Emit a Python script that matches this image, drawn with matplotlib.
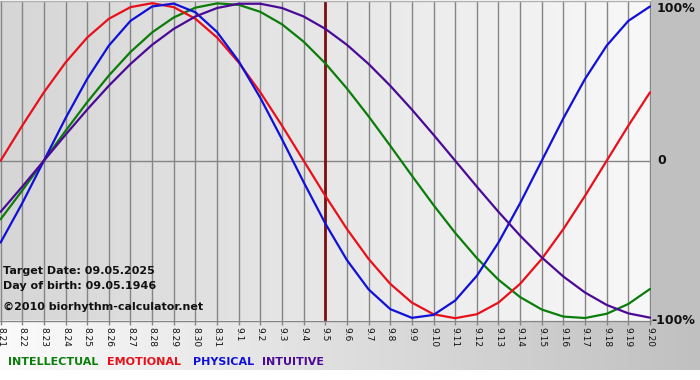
import numpy as np
import matplotlib
matplotlib.use("Agg")
import matplotlib.pyplot as plt
from matplotlib.colors import LinearSegmentedColormap

dates = ["8.21", "8.22", "8.23", "8.24", "8.25", "8.26", "8.27", "8.28", "8.29", "8.30", "8.31",
         "9.1", "9.2", "9.3", "9.4", "9.5", "9.6", "9.7", "9.8", "9.9", "9.10",
         "9.11", "9.12", "9.13", "9.14", "9.15", "9.16", "9.17", "9.18", "9.19", "9.20"]
target_label = "9.5"

intellectual = [-0.3717, -0.1893, 0.0, 0.1893, 0.3717, 0.5406, 0.6901, 0.8146, 0.9096, 0.9718, 0.9989,
                0.9898, 0.9450, 0.8660, 0.7557, 0.6182, 0.4582, 0.2817, 0.0951, -0.0951, -0.2817,
                -0.4582, -0.6182, -0.7557, -0.8660, -0.9450, -0.9898, -0.9989, -0.9718, -0.9096, -0.8146]
emotional = [0.0, 0.2225, 0.4339, 0.6235, 0.7818, 0.9010, 0.9749, 1.0, 0.9749, 0.9010, 0.7818,
             0.6235, 0.4339, 0.2225, 0.0, -0.2225, -0.4339, -0.6235, -0.7818, -0.9010, -0.9749,
             -1.0, -0.9749, -0.9010, -0.7818, -0.6235, -0.4339, -0.2225, 0.0, 0.2225, 0.4339]
physical = [-0.5196, -0.2698, 0.0, 0.2698, 0.5196, 0.7308, 0.8879, 0.9791, 0.9977, 0.9423, 0.8170,
            0.6311, 0.3984, 0.1362, -0.1362, -0.3984, -0.6311, -0.8170, -0.9423, -0.9977, -0.9791,
            -0.8879, -0.7308, -0.5196, -0.2698, 0.0, 0.2698, 0.5196, 0.7308, 0.8879, 0.9791]
intuitive = [-0.3247, -0.1646, 0.0, 0.1646, 0.3247, 0.4759, 0.6142, 0.7357, 0.8372, 0.9158, 0.9694,
             0.9966, 0.9966, 0.9694, 0.9158, 0.8372, 0.7357, 0.6142, 0.4759, 0.3247, 0.1646,
             0.0, -0.1646, -0.3247, -0.4759, -0.6142, -0.7357, -0.8372, -0.9158, -0.9694, -0.9966]

series_names = ["INTELLECTUAL", "EMOTIONAL", "PHYSICAL", "INTUITIVE"]
series_colors = ["#0a7d0a", "#e8101a", "#1010d8", "#4b0a96"]
info_lines = ["Target Date: 09.05.2025", "Day of birth: 09.05.1946", "\u00a92010 biorhythm-calculator.net"]
y_labels = ["100%", "0", "-100%"]

W, H = 700, 380
fig = plt.figure(figsize=(7, 3.8), dpi=100)
fig.patch.set_facecolor("white")

def fx(px):
    return px / W

def fy(py):
    return 1 - py / H

# background axes for the figure decorations
bg = fig.add_axes([0, 0, 1, 1], zorder=-10)
bg.axis("off")
bg.add_patch(plt.Rectangle((651, 0), W - 651, 321, color="#c0c0c0", lw=0))
cm_bottom = LinearSegmentedColormap.from_list("b", ["#fbfbfb", "#c0c0c0"])
grad = np.linspace(0, 1, 256).reshape(1, -1)
bg.imshow(grad, cmap=cm_bottom, extent=(0, W, 370, 321), aspect="auto", interpolation="bilinear")
bg.set_xlim(0, W)
bg.set_ylim(H, 0)

# plot axes
top_px, bot_px = 1.0, 320.5
ax = fig.add_axes([0, fy(bot_px), fx(651), (bot_px - top_px) / H])
n = len(dates)
x = np.arange(n)
spacing = 649.4 / (n - 1)
ax.set_xlim(-0.6 / spacing, (n - 1) + 1.0 / spacing)
zero_px = 160.7
scale = 157.5
ax.set_ylim(-(bot_px - zero_px) / scale, (zero_px - top_px) / scale)

cm_plot = LinearSegmentedColormap.from_list("p", ["#d6d6d6", "#f8f8f8"])
ax.imshow(grad, cmap=cm_plot, extent=(ax.get_xlim()[0], ax.get_xlim()[1], ax.get_ylim()[0], ax.get_ylim()[1]),
          aspect="auto", interpolation="bilinear", zorder=0)

for xi in x:
    ax.axvline(xi, color="#858585", lw=1.0, zorder=1)
ax.axhline(0, color="#858585", lw=1.0, zorder=1)

ti = dates.index(target_label)
ax.axvline(ti, color="#7a1010", lw=2.0, zorder=2)

for vals, c in zip([intellectual, emotional, physical, intuitive], series_colors):
    ax.plot(x, vals, color=c, lw=1.6, zorder=3, solid_capstyle="round", solid_joinstyle="round")

for s in ["left", "right"]:
    ax.spines[s].set_visible(False)
ax.spines["bottom"].set_color("#858585")
ax.spines["bottom"].set_linewidth(1.0)
ax.spines["top"].set_color("#b0b0b0")
ax.spines["top"].set_linewidth(1.0)

ax.set_xticks(x)
ax.set_xticklabels(dates, rotation=270, fontsize=6.5, family="DejaVu Sans", color="#111111")
ax.tick_params(axis="x", length=3, width=1, color="#858585", pad=1.5)
ax.set_yticks([])

# info texts
for txt, py in zip(info_lines, [271, 286, 307]):
    fig.text(fx(3), fy(py), txt, fontsize=8, fontweight="bold", color="#111111",
             va="center", ha="left", family="DejaVu Sans")

# right labels
for lab, py, px in zip(y_labels, [8, 161, 321], [657, 657, 651]):
    fig.text(fx(px), fy(py), lab, fontsize=9, fontweight="bold",
             color="#111111", va="center", ha="left", family="DejaVu Sans")

# legend line
for name, c, px in zip(series_names, series_colors, [8, 107, 193, 262]):
    fig.text(fx(px), fy(362), name, fontsize=8, fontweight="bold", color=c,
             va="center", ha="left", family="DejaVu Sans")

fig.savefig("out.png", dpi=100, facecolor=fig.get_facecolor())
